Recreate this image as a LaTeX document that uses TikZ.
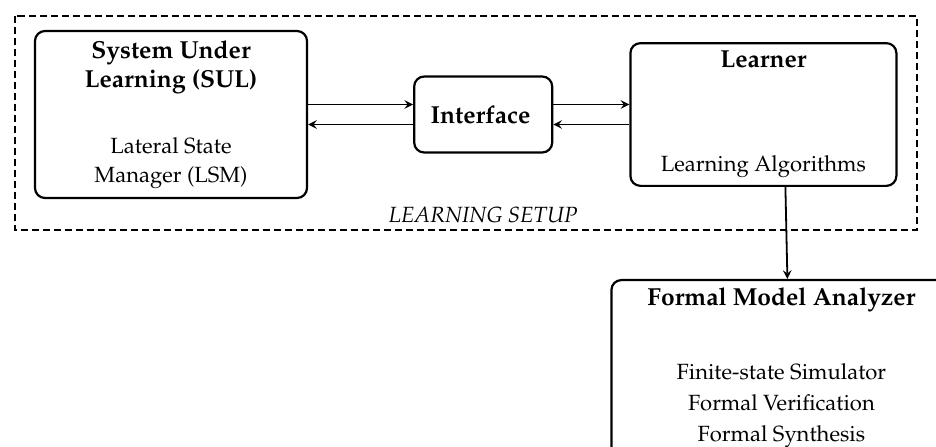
\documentclass[tikz,border=0pt]{standalone}
\usepackage[T1]{fontenc}
\usepackage{mathpazo}
\usepackage{tikz}
\usetikzlibrary{arrows,positioning}

\newcommand{\blocktitle}[1]{{\fontsize{12.3}{14.5}\selectfont\textbf{#1}}}

\begin{document}
\begin{tikzpicture}
    [node distance = 2cm, auto, font=\fontsize{11}{14.5}\selectfont, >=stealth,
    % STYLES
    % The block style is used to draw the rounded components
    block/.style={rectangle, draw, rounded corners=5pt, line width=1.1pt, align=center, inner sep=4pt},
    % The frame style is used for the dashed learning setup
    frame/.style={dash pattern=on 3.5pt off 2pt, line width=1pt},
    % The link style is used for the arrows between components
    link/.style={->, line width=0.9pt}]

    \useasboundingbox (-85.5pt,57.25pt) rectangle (382.5pt,-165.75pt);
    \clip (-85.5pt,57.25pt) rectangle (382.5pt,-165.75pt);

    % Draw components
    \node [block, minimum width=136pt, minimum height=83.5pt] (sul) at (0,0) {
    \blocktitle{System Under}\\
    \blocktitle{Learning (SUL)}\\[18.5pt]
    Lateral State\\
    Manager (LSM)
    };
    \node [block, minimum width=69pt, minimum height=38pt, right=52.5pt of sul] (iface) {
    \blocktitle{Interface}
    };
    \node [block, minimum width=133pt, minimum height=70.5pt, right=38pt of iface] (learner) {
    \blocktitle{Learner}\\[37.5pt]
    Learning Algorithms
    };
    \node [block, minimum width=170pt, below=46pt of learner, xshift=9pt] (fma) {
    \blocktitle{Formal Model Analyzer}\\[22.5pt]
    Finite-state Simulator\\[0.8pt]
    Formal Verification\\[0.8pt]
    Formal Synthesis\\[10pt]
    ~
    };

    % Draw learning setup
    \coordinate (framenw) at (sul.north west);
    \coordinate (framese) at (learner.east |- sul.south);
    \draw [frame] ([shift={(-9.5pt,7pt)}]framenw) rectangle ([shift={(9.5pt,-15.5pt)}]framese);
    \node [font=\fontsize{11}{14.5}\selectfont\itshape, below=23.5pt of iface] (setup) {LEARNING SETUP};

    \path[link]
    ([yshift=5pt]sul.east) edge ([yshift=5pt]iface.west)
    ([yshift=-5pt]iface.west) edge ([yshift=-5pt]sul.east)
    ([yshift=5pt]iface.east) edge ([yshift=5pt]learner.west)
    ([yshift=-5pt]learner.west) edge ([yshift=-5pt]iface.east)
    ([xshift=11pt]learner.south) edge ([xshift=3pt]fma.north);
    \end{tikzpicture}
\end{document}
